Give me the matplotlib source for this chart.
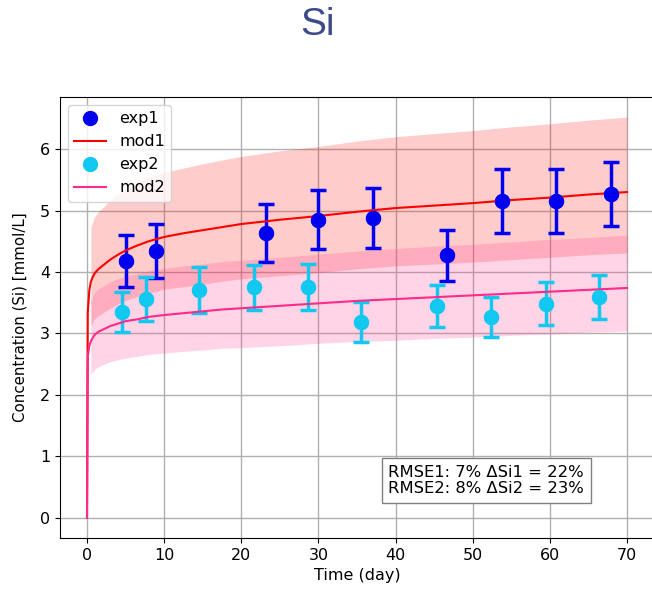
import numpy as np
import matplotlib
matplotlib.use("Agg")
import matplotlib.pyplot as plt

# measured points (day, mmol/L)
t_exp1 = [5.1, 9.0, 23.2, 29.9, 37.1, 46.7, 53.8, 60.8, 67.9]
c_exp1 = [4.18, 4.34, 4.64, 4.85, 4.88, 4.27, 5.15, 5.15, 5.27]
e_exp1 = [0.42, 0.44, 0.47, 0.48, 0.49, 0.42, 0.52, 0.52, 0.52]

t_exp2 = [4.6, 7.6, 14.5, 21.6, 28.6, 35.5, 45.4, 52.4, 59.5, 66.4]
c_exp2 = [3.35, 3.56, 3.71, 3.75, 3.76, 3.19, 3.45, 3.27, 3.48, 3.59]
e_exp2 = [0.33, 0.36, 0.37, 0.36, 0.37, 0.33, 0.34, 0.33, 0.35, 0.36]

# model curves
t_mod = [0, 0.1, 0.3, 0.5, 0.75, 1, 1.5, 2, 3, 4, 5, 6.5, 8, 10, 12.5, 15,
         17.5, 20, 25, 30, 35, 40, 45, 50, 55, 60, 65, 70]
mod1 = [0, 3.35, 3.70, 3.84, 3.92, 3.98, 4.05, 4.10, 4.20, 4.28, 4.35, 4.43,
        4.50, 4.57, 4.63, 4.68, 4.73, 4.78, 4.85, 4.91, 4.98, 5.04, 5.08, 5.12,
        5.17, 5.21, 5.26, 5.30]
mod2 = [0, 2.62, 2.80, 2.87, 2.93, 2.98, 3.03, 3.06, 3.12, 3.16, 3.20, 3.23,
        3.27, 3.30, 3.33, 3.36, 3.39, 3.41, 3.45, 3.49, 3.53, 3.56, 3.59, 3.62,
        3.65, 3.68, 3.71, 3.74]

# uncertainty bands
t_band = [0.5, 0.75, 1, 1.5, 2, 3, 4, 5, 6.5, 8, 10, 12.5, 15, 17.5, 20, 25,
          30, 35, 40, 45, 50, 55, 60, 65, 70]
band1_hi = [4.72, 4.82, 4.90, 4.98, 5.04, 5.17, 5.26, 5.35, 5.45, 5.54, 5.62,
            5.69, 5.76, 5.82, 5.88, 5.97, 6.04, 6.13, 6.20, 6.25, 6.30, 6.36,
            6.41, 6.47, 6.52]
band1_lo = [3.12, 3.19, 3.24, 3.29, 3.33, 3.41, 3.48, 3.54, 3.60, 3.66, 3.72,
            3.76, 3.80, 3.85, 3.89, 3.94, 3.99, 4.05, 4.10, 4.13, 4.16, 4.20,
            4.24, 4.28, 4.31]
band2_hi = [3.53, 3.60, 3.67, 3.73, 3.76, 3.84, 3.89, 3.94, 3.97, 4.02, 4.06,
            4.10, 4.13, 4.17, 4.19, 4.24, 4.29, 4.34, 4.38, 4.42, 4.45, 4.49,
            4.53, 4.56, 4.60]
band2_lo = [2.33, 2.38, 2.42, 2.46, 2.49, 2.54, 2.57, 2.60, 2.63, 2.66, 2.68,
            2.71, 2.73, 2.76, 2.77, 2.80, 2.84, 2.87, 2.89, 2.92, 2.94, 2.97,
            2.99, 3.02, 3.04]

col1 = "#0000f0"
col2 = "#10c8f0"
colm1 = "red"
colm2 = "#ff2a8a"
fs = 11.5

fig = plt.figure(figsize=(6.52, 5.90), dpi=100)
ax = fig.add_axes([60 / 652, 52 / 590, 594 / 652, 441 / 590])

ax.fill_between(t_band, band1_lo, band1_hi, color="red", alpha=0.2, linewidth=0)
ax.fill_between(t_band, band2_lo, band2_hi, color="#ff3d8e", alpha=0.22, linewidth=0)

ax.plot(t_exp1, c_exp1, "o", color=col1, markersize=10, label="exp1")
ax.errorbar(t_exp1, c_exp1, yerr=e_exp1, fmt="o", color=col1, markersize=10,
            elinewidth=2.5, capsize=6, capthick=2.5)
ax.plot(t_mod, mod1, color=colm1, linewidth=1.5, label="mod1")

ax.plot(t_exp2, c_exp2, "o", color=col2, markersize=10, label="exp2")
ax.errorbar(t_exp2, c_exp2, yerr=e_exp2, fmt="o", color=col2, markersize=10,
            elinewidth=2.5, capsize=6, capthick=2.5)
ax.plot(t_mod, mod2, color=colm2, linewidth=1.5, label="mod2")

ax.grid(True, color="#b0b0b0", linewidth=1)
ax.set_axisbelow(True)
ax.set_xlabel("Time (day)", fontsize=fs)
ax.set_ylabel("Concentration (Si) [mmol/L]", fontsize=10.8, labelpad=9)
ax.tick_params(labelsize=fs)
ax.legend(loc="upper left", fontsize=fs)

ax.text(0.553, 0.095, "RMSE1: 7% \u0394Si1 = 22%\nRMSE2: 8% \u0394Si2 = 23%",
        transform=ax.transAxes, fontsize=11.8, va="bottom", ha="left",
        linespacing=1.1,
        bbox=dict(boxstyle="square,pad=0.4", facecolor="white", edgecolor="gray"))

fig.text(0.487, 0.958, "Si", ha="center", va="center", fontsize=28,
         color="#3c4a8c", family=["Liberation Sans", "DejaVu Sans"])

fig.savefig("out.png", dpi=100)
